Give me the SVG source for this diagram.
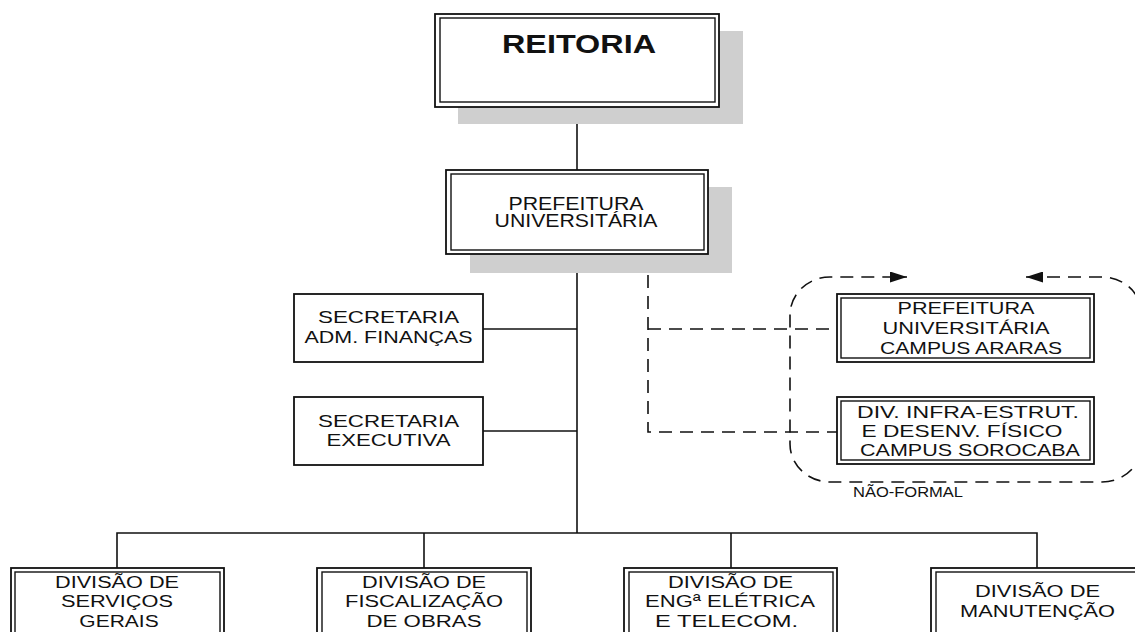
<svg xmlns="http://www.w3.org/2000/svg" width="1135" height="632" viewBox="0 0 1135 632">
<defs>
<style>
.ln{fill:none;stroke:#111;stroke-width:1.6}
.dash{fill:none;stroke:#111;stroke-width:1.6;stroke-dasharray:13 8}
.box{fill:#fff;stroke:#111;stroke-width:1.8}
.inner{fill:none;stroke:#111;stroke-width:1.4}
.sh{fill:#cfcfcf}
.t{font-family:"Liberation Sans",Arial,sans-serif;fill:#111;text-anchor:middle}
.s16{font-size:16px}
.s17{font-size:17px}
</style>
<marker id="arr" markerUnits="userSpaceOnUse" markerWidth="17" markerHeight="11" viewBox="0 0 17 11" refX="17" refY="5.5" orient="auto-start-reverse">
<path d="M0,0 L17,5.5 L0,11 z" fill="#111"/>
</marker>
</defs>
<rect width="1135" height="632" fill="#fff"/>

<g id="connectors">
<path class="ln" d="M577,107 V170"/>
<path class="ln" d="M577,254 V533"/>
<path class="ln" d="M483,329 H577"/>
<path class="ln" d="M483,431 H577"/>
<path class="ln" d="M117,568 V533 H1037 V568"/>
<path class="ln" d="M424,533 V568"/>
<path class="ln" d="M731,533 V568"/>
<path class="dash" d="M648,254 V432 H837"/>
<path class="dash" d="M648,329 H837"/>
</g>

<g id="nao-formal">
<path class="dash" d="M1026,277 H1102 A40,38 0 0 1 1142,315 V444 A40,38 0 0 1 1102,482 H830 A40,38 0 0 1 790,444 V315 A40,38 0 0 1 830,277 H907" marker-start="url(#arr)" marker-end="url(#arr)"/>
<text class="t" transform="translate(908,497) scale(1.15,1)" font-size="14.5" textLength="95.7" lengthAdjust="spacingAndGlyphs">NÃO-FORMAL</text>
</g>

<g id="reitoria">
<rect class="sh" x="458" y="31" width="285" height="93"/>
<rect class="box" x="435" y="14" width="284" height="93"/>
<rect class="inner" x="440" y="18" width="275" height="84"/>
<text class="t" transform="translate(579,53) scale(1.3,1)" font-size="25" font-weight="bold" textLength="118.5" lengthAdjust="spacingAndGlyphs">REITORIA</text>
</g>

<g id="prefeitura">
<rect class="sh" x="470" y="187" width="262" height="86"/>
<rect class="box" x="446" y="170" width="262" height="84"/>
<rect class="inner" x="451" y="174" width="253" height="76"/>
<text class="t" transform="translate(576,210) scale(1.2,1)" font-size="17.5" textLength="112.5" lengthAdjust="spacingAndGlyphs">PREFEITURA</text>
<text class="t" transform="translate(576,227) scale(1.2,1)" font-size="17.5" textLength="135.8" lengthAdjust="spacingAndGlyphs">UNIVERSITÁRIA</text>
</g>

<g id="sec-adm">
<rect class="box" x="294" y="294" width="189" height="68"/>
<text class="t s16" transform="translate(388.5,323) scale(1.3,1)" textLength="108.5" lengthAdjust="spacingAndGlyphs">SECRETARIA</text>
<text class="t s16" transform="translate(388.5,343) scale(1.3,1)" textLength="129.2" lengthAdjust="spacingAndGlyphs">ADM. FINANÇAS</text>
</g>

<g id="sec-exec">
<rect class="box" x="294" y="397" width="189" height="68"/>
<text class="t s16" transform="translate(388.5,427) scale(1.3,1)" textLength="108.5" lengthAdjust="spacingAndGlyphs">SECRETARIA</text>
<text class="t s16" transform="translate(388.5,446) scale(1.3,1)" textLength="95.4" lengthAdjust="spacingAndGlyphs">EXECUTIVA</text>
</g>

<g id="araras">
<rect class="box" x="837" y="294" width="257" height="68"/>
<rect class="inner" x="841" y="298" width="249" height="60"/>
<text class="t s16" transform="translate(966,314) scale(1.3,1)" textLength="105.4" lengthAdjust="spacingAndGlyphs">PREFEITURA</text>
<text class="t s16" transform="translate(966,334) scale(1.3,1)" textLength="128.5" lengthAdjust="spacingAndGlyphs">UNIVERSITÁRIA</text>
<text class="t s16" transform="translate(971,354) scale(1.3,1)" textLength="140" lengthAdjust="spacingAndGlyphs">CAMPUS ARARAS</text>
</g>

<g id="sorocaba">
<rect class="box" x="837" y="397" width="257" height="67"/>
<rect class="inner" x="841" y="401" width="249" height="59"/>
<text class="t s16" transform="translate(968,418) scale(1.3,1)" textLength="170.8" lengthAdjust="spacingAndGlyphs">DIV. INFRA-ESTRUT.</text>
<text class="t s16" transform="translate(962,437) scale(1.3,1)" textLength="154.6" lengthAdjust="spacingAndGlyphs">E DESENV. FÍSICO</text>
<text class="t s16" transform="translate(970,456) scale(1.3,1)" textLength="169.2" lengthAdjust="spacingAndGlyphs">CAMPUS SOROCABA</text>
</g>

<g id="div-servicos">
<rect class="box" x="11" y="568" width="213" height="90"/>
<rect class="inner" x="15" y="572" width="205" height="90"/>
<text class="t s17" transform="translate(117,588) scale(1.3,1)" textLength="95.4" lengthAdjust="spacingAndGlyphs">DIVISÃO DE</text>
<text class="t s17" transform="translate(117,607) scale(1.3,1)" textLength="86.2" lengthAdjust="spacingAndGlyphs">SERVIÇOS</text>
<text class="t s17" transform="translate(119,627) scale(1.3,1)" textLength="61" lengthAdjust="spacingAndGlyphs">GERAIS</text>
</g>

<g id="div-fiscalizacao">
<rect class="box" x="317" y="568" width="214" height="90"/>
<rect class="inner" x="322" y="572" width="205" height="90"/>
<text class="t s17" transform="translate(424,588) scale(1.3,1)" textLength="95.4" lengthAdjust="spacingAndGlyphs">DIVISÃO DE</text>
<text class="t s17" transform="translate(424,607) scale(1.3,1)" textLength="121.5" lengthAdjust="spacingAndGlyphs">FISCALIZAÇÃO</text>
<text class="t s17" transform="translate(424,627) scale(1.3,1)" textLength="88.5" lengthAdjust="spacingAndGlyphs">DE OBRAS</text>
</g>

<g id="div-eletrica">
<rect class="box" x="624" y="568" width="213" height="90"/>
<rect class="inner" x="629" y="572" width="204" height="90"/>
<text class="t s17" transform="translate(730.5,588) scale(1.3,1)" textLength="96.2" lengthAdjust="spacingAndGlyphs">DIVISÃO DE</text>
<text class="t s17" transform="translate(730,607) scale(1.3,1)" textLength="130.8" lengthAdjust="spacingAndGlyphs">ENGª ELÉTRICA</text>
<text class="t s17" transform="translate(726.5,627) scale(1.3,1)" textLength="110" lengthAdjust="spacingAndGlyphs">E TELECOM.</text>
</g>

<g id="div-manutencao">
<rect class="box" x="931" y="568" width="213" height="90"/>
<rect class="inner" x="936" y="572" width="204" height="90"/>
<text class="t s17" transform="translate(1037.5,597) scale(1.3,1)" textLength="96.2" lengthAdjust="spacingAndGlyphs">DIVISÃO DE</text>
<text class="t s17" transform="translate(1037.5,617) scale(1.3,1)" textLength="119.2" lengthAdjust="spacingAndGlyphs">MANUTENÇÃO</text>
</g>
</svg>
